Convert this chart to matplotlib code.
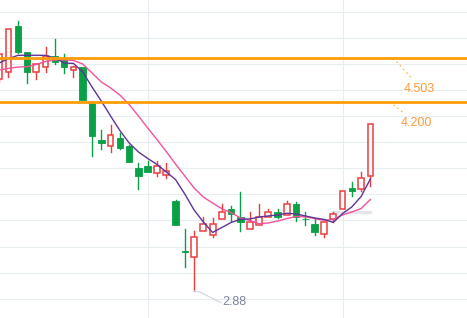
import numpy as np
import matplotlib
matplotlib.use("Agg")
import matplotlib.pyplot as plt

# OHLC (daily candles, left to right)
opens = [4.36, 4.41, 4.73, 4.55, 4.41, 4.44, 4.52, 4.50, 4.42, 4.44,
         4.19, 3.93, 3.89, 3.95, 3.89, 3.74, 3.75, 3.70, 3.69, 3.51,
         3.16, 3.12, 3.30, 3.27, 3.38, 3.45, 3.40, 3.31, 3.34, 3.395,
         3.43, 3.41, 3.49, 3.385, 3.35, 3.28, 3.38, 3.45, 3.60, 3.59, 3.68]
highs = [4.53, 4.71, 4.76, 4.55, 4.46, 4.58, 4.64, 4.53, 4.45, 4.44,
         4.19, 4.00, 4.04, 3.98, 3.90, 3.77, 3.79, 3.79, 3.77, 3.515,
         3.31, 3.30, 3.40, 3.39, 3.49, 3.47, 3.57, 3.43, 3.49, 3.45,
         3.45, 3.51, 3.50, 3.43, 3.38, 3.36, 3.43, 3.575, 3.64, 3.71, 4.045]
lows = [4.34, 4.37, 4.54, 4.33, 4.36, 4.41, 4.46, 4.40, 4.37, 4.21,
        3.82, 3.87, 3.85, 3.87, 3.78, 3.59, 3.71, 3.68, 3.67, 3.34,
        3.05, 2.88, 3.30, 3.255, 3.38, 3.37, 3.30, 3.31, 3.34, 3.395,
        3.39, 3.41, 3.37, 3.34, 3.27, 3.26, 3.36, 3.45, 3.54, 3.58, 3.61]
closes = [4.53, 4.71, 4.55, 4.41, 4.46, 4.52, 4.48, 4.44, 4.44, 4.21,
          3.96, 3.91, 3.97, 3.88, 3.78, 3.68, 3.71, 3.75, 3.72, 3.34,
          3.15, 3.26, 3.35, 3.35, 3.43, 3.42, 3.36, 3.36, 3.40, 3.43,
          3.395, 3.49, 3.395, 3.38, 3.29, 3.36, 3.42, 3.575, 3.58, 3.67, 4.045]

# moving averages as drawn (short = purple, long = pink)
ma_short = [4.470, 4.500, 4.523, 4.524, 4.524, 4.523, 4.505, 4.470, 4.467, 4.408,
            4.303, 4.205, 4.101, 4.000, 3.913, 3.850, 3.805, 3.763, 3.711, 3.658,
            3.557, 3.446, 3.362, 3.289, 3.324, 3.359, 3.381, 3.383, 3.397, 3.404,
            3.411, 3.423, 3.418, 3.404, 3.390, 3.380, 3.359, 3.421, 3.467, 3.540, 3.662]
ma_long = [4.421, 4.432, 4.442, 4.444, 4.460, 4.481, 4.491, 4.491, 4.488, 4.463,
           4.401, 4.338, 4.296, 4.247, 4.181, 4.101, 4.017, 3.937, 3.853, 3.766,
           3.683, 3.599, 3.536, 3.494, 3.454, 3.427, 3.390, 3.373, 3.350, 3.355,
           3.369, 3.386, 3.400, 3.398, 3.386, 3.374, 3.380, 3.411, 3.432, 3.456, 3.519]

levels = [4.503, 4.200]
level_labels = ["4.503", "4.200"]
low_label = "2.88"

RED = "#ee3d3d"
GREEN = "#08a145"
ORANGE = "#ff9c0a"

fig = plt.figure(figsize=(4.67, 3.18), dpi=100)
ax = fig.add_axes([0, 0, 1, 1])

x = np.arange(len(opens))
o = np.array(opens)
c = np.array(closes)
h = np.array(highs)
l = np.array(lows)
up = c >= o
top = np.maximum(o, c)
bot = np.minimum(o, c)
body = np.maximum(top - bot, 0.004)

# grid
for gy in 4.828 - 0.1819 * np.arange(12):
    ax.axhline(gy, color="#e8edf2", lw=0.8, zorder=0)
for gx in [16, 37]:
    ax.axvline(gx, color="#e8edf2", lw=0.8, zorder=0)

# wicks
for i in x:
    col = RED if up[i] else GREEN
    ax.plot([i, i], [top[i], h[i]], color=col, lw=1.0, zorder=2)
    ax.plot([i, i], [l[i], bot[i]], color=col, lw=1.0, zorder=2)

# bodies
ax.bar(x[~up], body[~up], bottom=bot[~up], width=0.7, color=GREEN,
       edgecolor=GREEN, lw=0.6, zorder=3)
ax.bar(x[up], body[up], bottom=bot[up], width=0.62, color="white",
       edgecolor=RED, lw=1.1, zorder=3)

# moving averages
ax.plot(x, ma_long, color="#f4519d", lw=1.0, zorder=4)
ax.plot(x, ma_short, color="#5e3497", lw=1.0, zorder=4)

# faint marker line near the last candles
ax.plot([36, 40], [3.435, 3.435], color="#e4e6ea", lw=2.2, zorder=1)

# price levels with labels
ax.axhline(levels[0], color=ORANGE, lw=2.0, zorder=5)
ax.axhline(levels[1], color=ORANGE, lw=2.0, zorder=5)
ax.plot([42.47, 44.45], [levels[0], 4.364], color=ORANGE, lw=1.0,
        ls=(0, (1, 2.5)), alpha=0.8, zorder=5)
ax.plot([42.11, 43.73], [levels[1], 4.113], color=ORANGE, lw=1.0,
        ls=(0, (1, 2.5)), alpha=0.8, zorder=5)
ax.text(43.55, 4.289, level_labels[0], color="#ff9a3c", fontsize=9,
        family="Liberation Sans", va="center", ha="left")
ax.text(43.26, 4.052, level_labels[1], color="#ff9a3c", fontsize=9,
        family="Liberation Sans", va="center", ha="left")

# lowest price note
lo_i = int(np.argmin(l))
ax.plot([lo_i, lo_i + 0.6, 23.9], [l[lo_i], l[lo_i] - 0.005, 2.800],
        color="#d5d9e0", lw=0.9, zorder=2)
ax.text(24.08, 2.807, low_label, color="#7d8595", fontsize=9,
        family="Liberation Sans", va="center", ha="left")

ax.set_xlim(0.086, 50.41)
ax.set_ylim(2.693, 4.909)
ax.axis("off")

fig.savefig("out.png", dpi=100)
